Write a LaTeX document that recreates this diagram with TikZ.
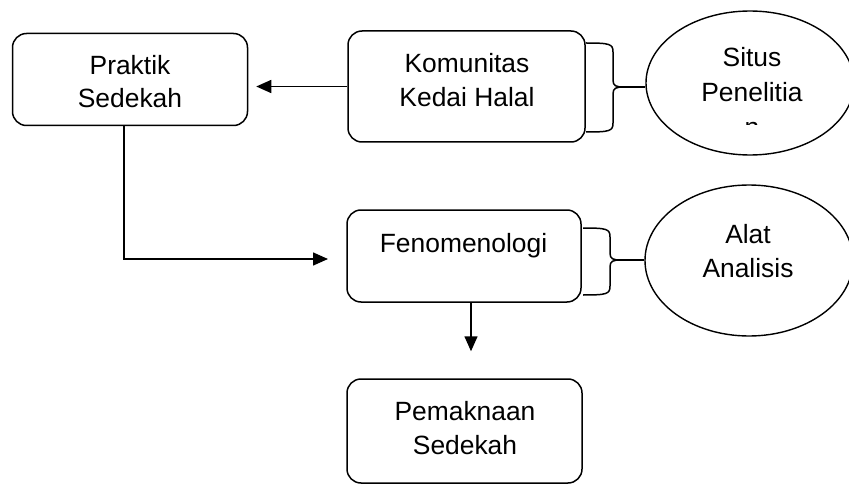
\documentclass[tikz,border=0pt]{standalone}
\usepackage{fontspec}
\setmainfont{Liberation Sans}
\usetikzlibrary{shapes.geometric,arrows.meta}
\begin{document}
\begin{tikzpicture}[x=1pt,y=-1pt,
  box/.style={draw, rounded corners=14pt, line width=1.5pt, inner sep=0pt},
  oval/.style={draw, ellipse, line width=1.4pt, inner sep=0pt},
  txt/.style={anchor=base, inner sep=0pt, font=\fontsize{26.4}{33}\selectfont},
  arr/.style={line width=1.5pt, -{Triangle[length=15pt,width=13pt]}},
  bracepath/.style={line width=1.5pt}]
\useasboundingbox (0,0) rectangle (849,484);
% boxes
\node[box, minimum width=235pt, minimum height=92pt] (pr) at (130,79.5) {};
\node[box, minimum width=237pt, minimum height=111pt] (ko) at (466.5,86.5) {};
\node[box, minimum width=234pt, minimum height=92pt] (fe) at (464,256) {};
\node[box, minimum width=235pt, minimum height=104pt] (pm) at (464.5,431) {};
% ellipses
\node[oval, minimum width=208pt, minimum height=144pt] (si) at (750,83) {};
\node[oval, minimum width=208pt, minimum height=151pt] (al) at (749,260.5) {};
% texts
\node[txt] (prA) at (130,75) {Praktik};
\node[txt] (prB) at (130,108) {Sedekah};
\node[txt] (koA) at (467,73) {Komunitas};
\node[txt] (koB) at (467,107) {Kedai Halal};
\node[txt] (siA) at (752,67) {Situs};
\node[txt] (siB) at (752,102) {Penelitia};
\begin{scope}
  \clip (700,100) rectangle (800,125);
  \node[txt] (siC) at (752,137) {n};
\end{scope}
\node[txt] (feA) at (463.5,252) {Fenomenologi};
\node[txt] (alA) at (748,243) {Alat};
\node[txt] (alB) at (748,277) {Analisis};
\node[txt] (pmA) at (465,420) {Pemaknaan};
\node[txt] (pmB) at (465,454) {Sedekah};
% braces
\draw[bracepath] (586,43) .. controls (610,43) and (613,44) .. (613,52) -- (613,80)
  .. controls (613,86) and (616,87) .. (624,87)
  .. controls (616,87) and (613,88) .. (613,94) -- (613,123)
  .. controls (613,131) and (610,132) .. (586,132);
\coordinate (b1) at (624,87);
\draw[bracepath] (b1) -- (b1 -| si.west);
\draw[bracepath] (583,228) .. controls (607,228) and (610,229) .. (610,237) -- (610,253)
  .. controls (610,259) and (613,260) .. (621,260)
  .. controls (613,260) and (610,261) .. (610,267) -- (610,286)
  .. controls (610,294) and (607,295) .. (583,295);
\coordinate (b2) at (621,260);
\draw[bracepath] (b2) -- (b2 -| al.west);
% arrows
\draw[arr, shorten >=8pt] (ko.west) -- (ko.west -| pr.east);
\coordinate (fein) at (328,259);
\draw[arr] ([xshift=-6pt]pr.south) |- (fein);
\draw[arr, shorten >=27pt] ([xshift=7pt]fe.south) -- ([xshift=7pt]fe.south |- pm.north);
\end{tikzpicture}
\end{document}
